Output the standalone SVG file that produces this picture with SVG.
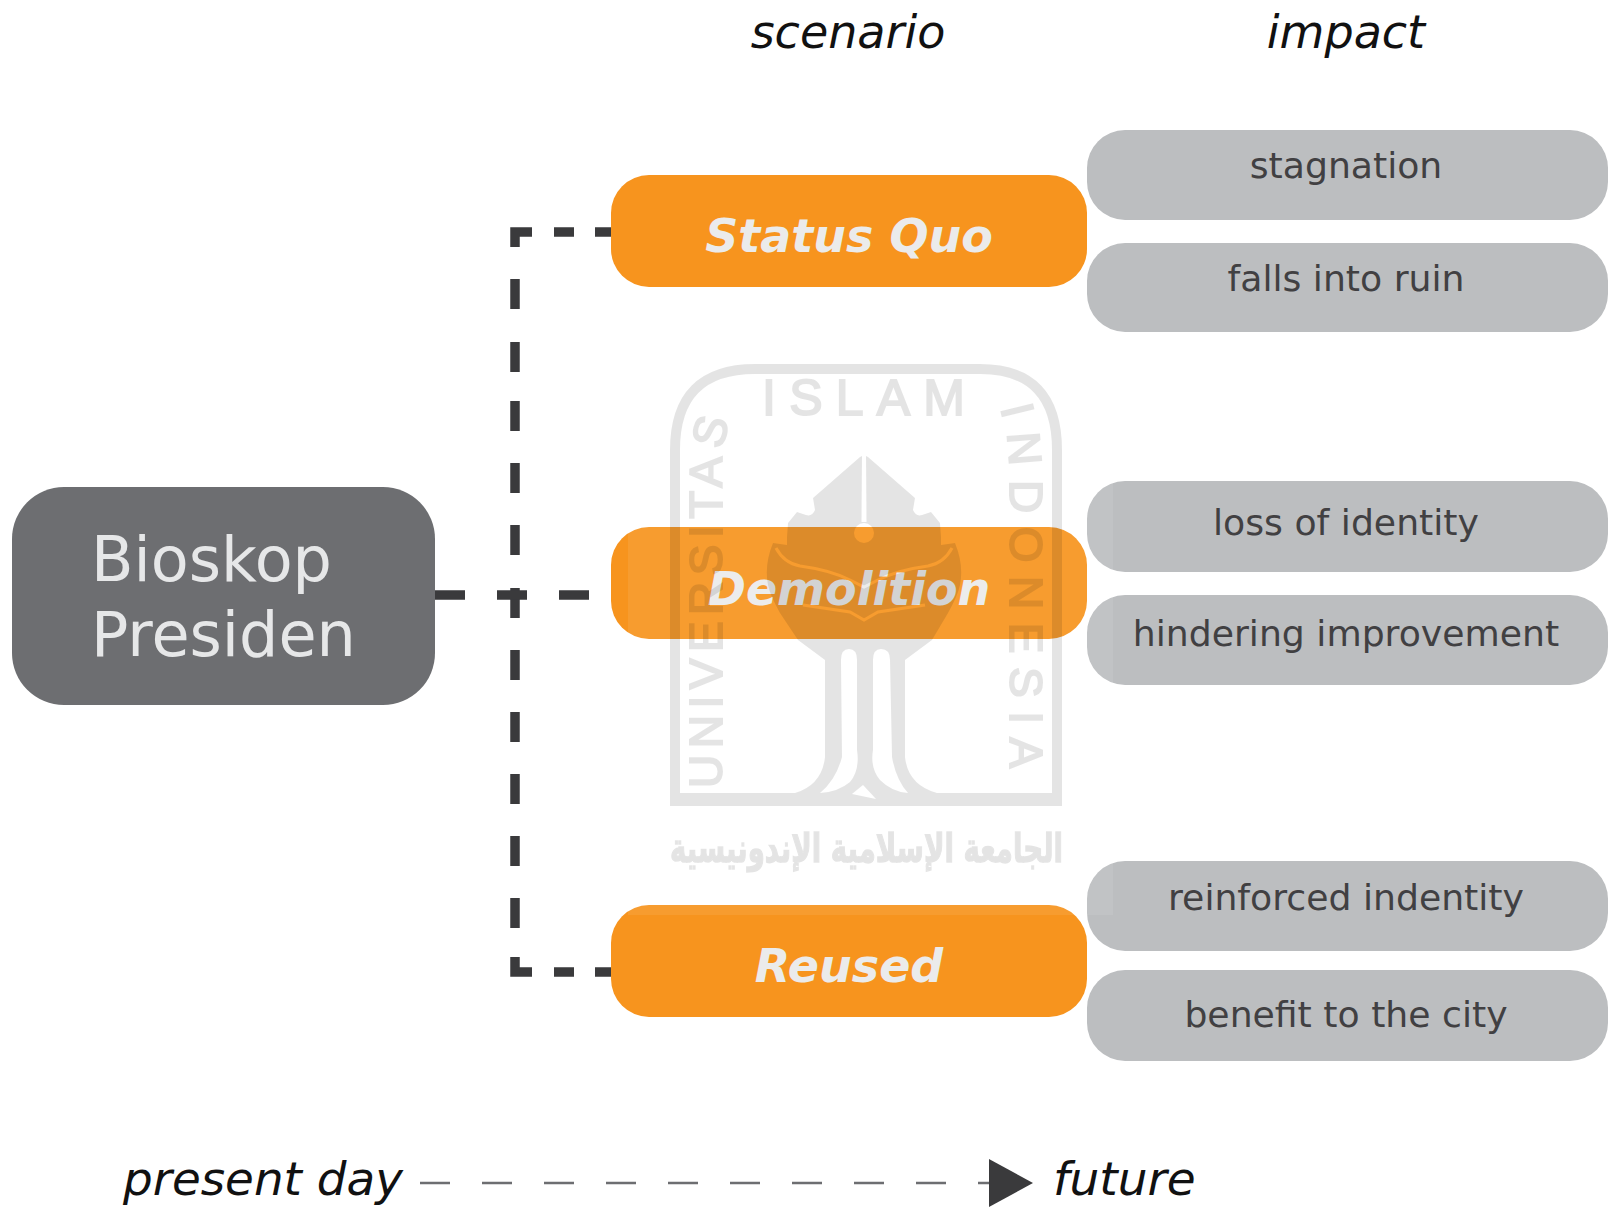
<svg xmlns="http://www.w3.org/2000/svg" width="1613" height="1207" viewBox="0 0 1613 1207">
<style>
text{font-family:"DejaVu Sans","Liberation Sans",sans-serif}
.o rect{fill:#f7941e}.o text{fill:#ebebeb;font-size:46px;font-weight:bold;font-style:italic;text-anchor:middle}
.g rect{fill:#bcbec0}.g text{fill:#414042;font-size:36.200px;text-anchor:middle}
.h{font-size:46px;font-style:italic;fill:#111}
.wm{font-family:"Liberation Sans",sans-serif;fill:#000;stroke:#000;stroke-width:2}
</style>
<defs>
<mask id="gaps" maskUnits="userSpaceOnUse" x="0" y="0" width="1613" height="1207">
<rect width="1613" height="1207" fill="#fff"/>
<g fill="#000" stroke="none">
<path d="M862,455H866L866.500,522H861.500Z"/>
<circle cx="864" cy="533" r="10"/>
<path d="M841,660Q841,649 849,649Q857,649 857,660V750Q860,770 850,782Q838,792 820,793Q836,780 842,757Z"/>
<path d="M873,660Q873,649 881,649Q890,649 890,660L892,757Q896,780 908,793Q892,792 880,780Q870,768 873,750Z"/>
<path d="M863,785L852,794L876,799Z"/>
</g>
<g fill="none" stroke="#000" stroke-width="3">
<path d="M776,548Q784,563 800,566Q830,570 850,580L864,587L878,580Q898,570 928,566Q944,563 952,548"/>
<path d="M803,605L850,612L864,620L878,612L925,605"/>
</g>
</mask>
</defs>
<rect width="1613" height="1207" fill="#fff"/>
<g id="connectors" fill="none" stroke="#3a3a3c" stroke-width="9.500">
<path d="M515,247V232H532M554,232H574M595,232H611"/>
<path d="M515,279V309M515,342V372M515,401V431M515,463V493M515,525V555M515,588V618M515,650V680M515,712V742M515,774V804M515,836V866M515,898V928M515,957V972H532M554,972H574M595,972H611"/>
<path d="M435,595H465M497,595H527M559,595H589"/>
</g>
<g id="bioskop-presiden">
<rect x="12" y="487" width="423" height="218" rx="52" fill="#6d6e71"/>
<text x="91" y="581" font-size="62" fill="#e6e7e8">Bioskop</text>
<text x="91" y="656" font-size="62" fill="#e6e7e8">Presiden</text>
</g>
<g id="status-quo" class="o"><rect x="611" y="175" width="476" height="112" rx="38"/><text x="849" y="252">Status Quo</text></g>
<g id="demolition" class="o"><rect x="611" y="527" width="476" height="112" rx="38"/><text x="849" y="605">Demolition</text></g>
<g id="reused" class="o"><rect x="611" y="905" width="476" height="112" rx="38"/><text x="849" y="982">Reused</text></g>
<g id="stagnation" class="g"><rect x="1087" y="130" width="521" height="90" rx="38"/><text x="1346" y="178">stagnation</text></g>
<g id="falls-into-ruin" class="g"><rect x="1087" y="243" width="521" height="89" rx="38"/><text x="1346" y="291">falls into ruin</text></g>
<g id="loss-of-identity" class="g"><rect x="1087" y="481" width="521" height="91" rx="38"/><text x="1346" y="535">loss of identity</text></g>
<g id="hindering-improvement" class="g"><rect x="1087" y="595" width="521" height="90" rx="38"/><text x="1346" y="646">hindering improvement</text></g>
<g id="reinforced-indentity" class="g"><rect x="1087" y="861" width="521" height="90" rx="38"/><text x="1346" y="910">reinforced indentity</text></g>
<g id="benefit-to-the-city" class="g"><rect x="1087" y="970" width="521" height="91" rx="38"/><text x="1346" y="1027">benefit to the city</text></g>
<text class="h" x="848" y="48" text-anchor="middle">scenario</text>
<text class="h" x="1346" y="48" text-anchor="middle">impact</text>
<g id="timeline">
<text class="h" x="123" y="1195" style="font-size:46.800px">present day</text>
<path d="M420,1183H450M482,1183H512M544,1183H574M606,1183H636M668,1183H698M730,1183H760M792,1183H822M854,1183H884M916,1183H946M978,1183H990" stroke="#6d6e71" stroke-width="2.500" fill="none"/>
<path d="M989,1159L1033,1183L989,1207Z" fill="#3a3a3c"/>
<text class="h" x="1053" y="1195" style="font-size:47px">future</text>
</g>
<g id="watermark">
<rect x="628" y="340" width="485" height="575" fill="#fff" opacity=".08"/>
<g opacity=".1" mask="url(#gaps)">
<path d="M675,806V450Q675,369 755,369H980Q1057,369 1057,450V806" fill="none" stroke="#000" stroke-width="10"/>
<path d="M670,793H795Q822,785 825,757V660L798,640L780,613Q770,595 768,585Q764,565 773,543L787,545L787,537L788,523L797,512L806,515Q812,517 815,510L813,498L860,457L864,455L868,457L915,498L913,510Q916,517 922,515L931,512L940,523L941,537L941,545L955,543Q964,565 960,585Q958,595 948,613L932,640L905,660V757Q908,785 937,793H1062V806H670Z"/>
<text class="wm" x="762" y="415" font-size="50" textLength="203">ISLAM</text>
<path id="uPath" d="M722,788V470Q722,440 732,414" fill="none"/>
<path id="iPath" d="M1000,408Q1010,440 1010,480V790" fill="none"/>
<text class="wm" font-size="46" letter-spacing="6.500"><textPath href="#uPath">UNIVERSITAS</textPath></text>
<text class="wm" font-size="46" letter-spacing="13.500"><textPath href="#iPath">INDONESIA</textPath></text>
<text x="1063" y="862" font-size="40" font-weight="bold" textLength="393" lengthAdjust="spacingAndGlyphs" direction="rtl" stroke="#000" stroke-width="1.500">الجامعة الإسلامية الإندونيسية</text>
</g>
</g>
</svg>
